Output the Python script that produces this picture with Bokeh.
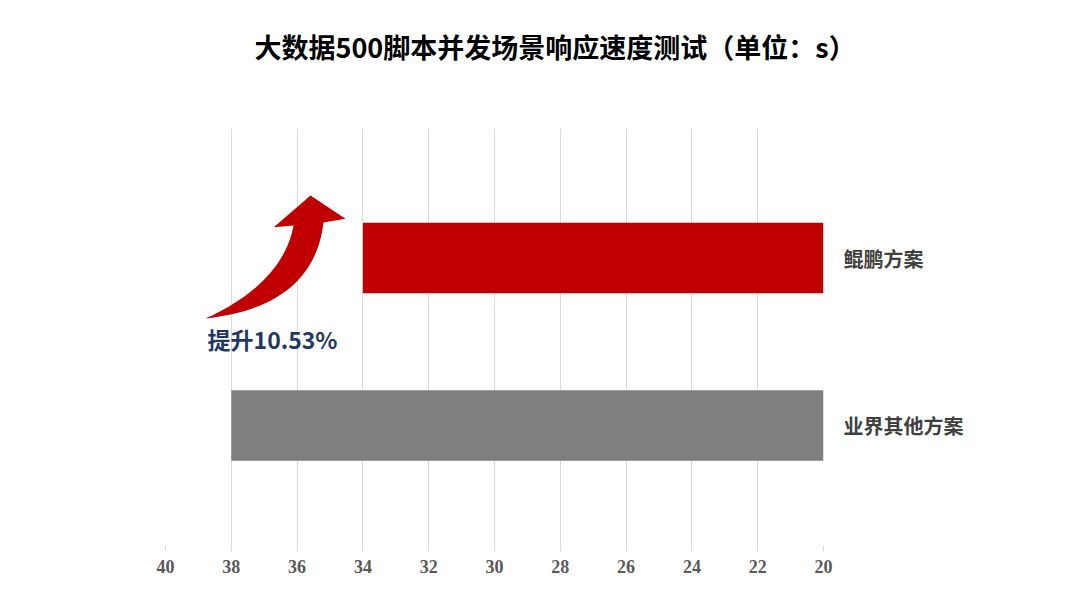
import numpy as np
from bokeh.plotting import figure
from bokeh.models import Range1d, FixedTicker, Label, Title
from bokeh.embed import file_html
from bokeh.resources import INLINE

# ---- data ----
categories = ["业界其他方案", "鲲鹏方案"]
values = [38, 34]
bar_colors = ["#7F7F7F", "#C00000"]
x_ticks = [20, 22, 24, 26, 28, 30, 32, 34, 36, 38, 40]
title_text = "大数据500脚本并发场景响应速度测试（单位：s）"

CJK = "Noto Sans CJK SC"

p = figure(width=1080, height=608, output_backend="svg", toolbar_location=None,
           x_range=Range1d(40, 20), y_range=Range1d(-0.716, 1.773),
           y_axis_location="right", title=None,
           min_border_left=165, min_border_right=257, min_border_top=128, min_border_bottom=63)
# spacer panel (nearest the frame), then the real title above it
p.add_layout(Title(text=" ", standoff=55, text_font_size="1px"), "above")
p.add_layout(Title(text=title_text, align="left", offset=89, standoff=10, text_font=CJK,
                   text_font_style="bold", text_font_size="27px", text_color="#000000"), "above")
p.outline_line_color = None
p.background_fill_color = "white"
p.border_fill_color = "white"

ypos = list(range(len(categories)))
p.hbar(y=ypos, left=20, right=values, height=0.42, color=bar_colors, line_color=None)

# x axis
xa = p.xaxis[0]
xa.ticker = FixedTicker(ticks=x_ticks)
xa.axis_line_color = None
xa.major_tick_line_color = "#D9D9D9"
xa.major_tick_in = 0
xa.major_tick_out = 6
xa.minor_tick_line_color = None
xa.major_label_standoff = 8
xa.major_label_text_font = "Liberation Serif"
xa.major_label_text_font_style = "bold"
xa.major_label_text_font_size = "18px"
xa.major_label_text_color = "#595959"

# y axis (right) category labels
ya = p.yaxis[0]
ya.ticker = FixedTicker(ticks=ypos)
ya.major_label_overrides = {i: c for i, c in zip(ypos, categories)}
ya.axis_line_color = None
ya.major_tick_line_color = None
ya.minor_tick_line_color = None
ya.major_tick_in = 0
ya.major_tick_out = 0
ya.major_label_standoff = 20
ya.major_label_text_font = CJK
ya.major_label_text_font_style = "bold"
ya.major_label_text_font_size = "20px"
ya.major_label_text_color = "#404040"

p.xgrid.grid_line_color = "#D9D9D9"
p.xgrid.grid_line_width = 1
p.ygrid.grid_line_color = None

# ---- curved arrow annotation ----
def cubic(p0, p1, p2, p3, n=40):
    t = np.linspace(0, 1, n)[:, None]
    P = [np.array(v) for v in (p0, p1, p2, p3)]
    return ((1 - t) ** 3) * P[0] + 3 * ((1 - t) ** 2) * t * P[1] + 3 * (1 - t) * t ** 2 * P[2] + t ** 3 * P[3]

tail = (38.784, 0.639)
inner = cubic(tail, (37.568, 0.746), (36.353, 0.925), (36.109, 1.194))
outer = cubic(tail, (37.112, 0.675), (35.441, 0.806), (35.198, 1.212))
head = [(36.708, 1.184), (35.593, 1.373), (34.529, 1.234)]
pts = list(map(tuple, inner)) + head + list(map(tuple, outer[::-1]))
p.patch([q[0] for q in pts], [q[1] for q in pts], color="#C00000", line_color=None)

gain = (values[0] - values[1]) / values[0] * 100
p.add_layout(Label(x=38.72, y=0.519, text="提升%.2f%%" % gain, text_font=CJK,
                   text_font_style="bold", text_font_size="23px", text_color="#1F3864",
                   text_align="left", text_baseline="middle"))

open("out.html", "w").write(file_html(p, INLINE))
